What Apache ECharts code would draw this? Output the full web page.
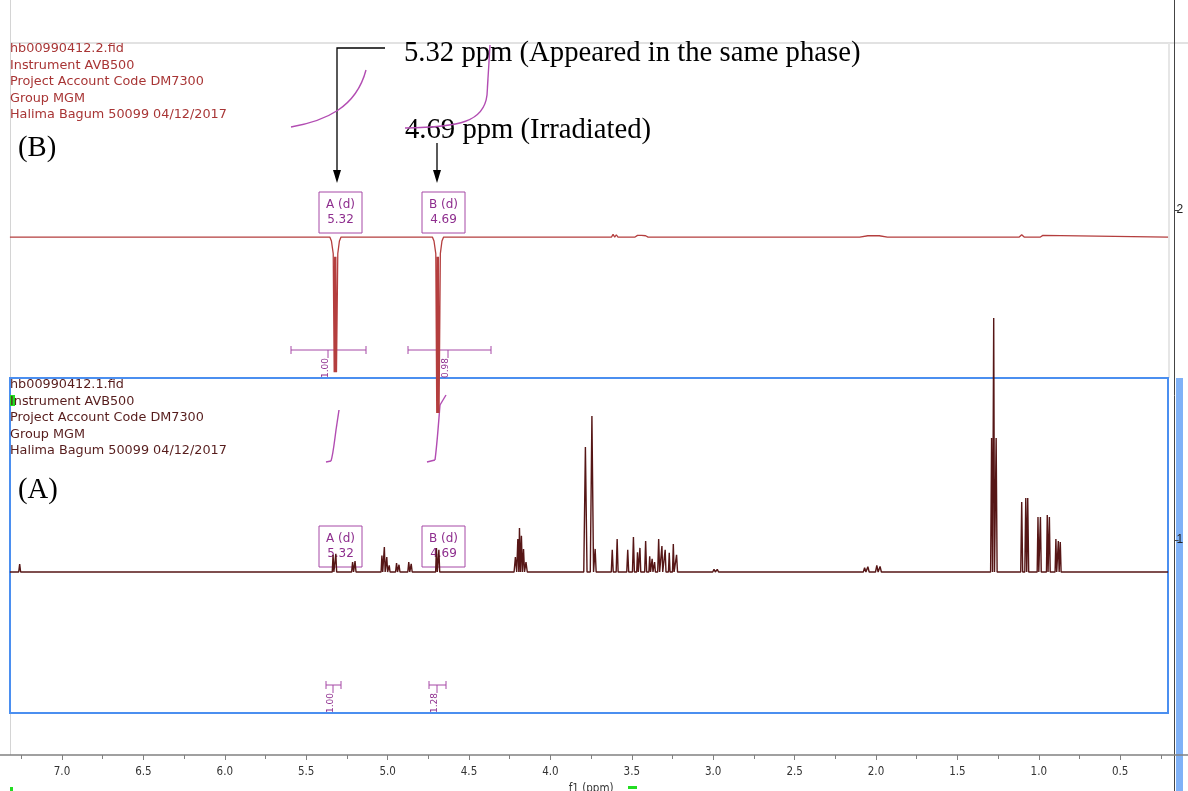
<!DOCTYPE html>
<html>
<head>
<meta charset="utf-8">
<script src="https://cdn.jsdelivr.net/npm/echarts@6.0.0/dist/echarts.min.js"></script>
<style>
  html, body { margin: 0; padding: 0; background: #fff; }
  #main { width: 1188px; height: 791px; }
</style>
</head>
<body>
<div id="main"></div>
<script>
// stacked spectra: baseline offsets on the right-hand axis
var baseA = 0.903;
var baseB = 1.918;
var ppmStart = 7.32;
var ppmEnd = 0.206;

// spectrum (A) 1H: [ppm, intensity, half width]
var peaksA = [
  [7.26, 0.024, 0.006],
  [5.335, 0.052, 0.005], [5.318, 0.055, 0.005],
  [5.215, 0.030, 0.006], [5.200, 0.033, 0.006],
  [5.035, 0.050, 0.005], [5.020, 0.076, 0.005], [5.005, 0.045, 0.005], [4.990, 0.020, 0.005],
  [4.945, 0.027, 0.006], [4.930, 0.022, 0.006],
  [4.870, 0.030, 0.006], [4.855, 0.025, 0.006],
  [4.700, 0.073, 0.005], [4.685, 0.067, 0.005],
  [4.215, 0.045, 0.008], [4.200, 0.100, 0.006], [4.190, 0.133, 0.006], [4.178, 0.110, 0.006], [4.165, 0.070, 0.006], [4.150, 0.030, 0.008],
  [3.785, 0.379, 0.010],
  [3.745, 0.473, 0.010], [3.725, 0.070, 0.006],
  [3.620, 0.067, 0.006], [3.590, 0.100, 0.006],
  [3.525, 0.067, 0.006], [3.490, 0.106, 0.006], [3.465, 0.060, 0.005], [3.450, 0.073, 0.005],
  [3.415, 0.094, 0.006], [3.390, 0.048, 0.005], [3.375, 0.040, 0.005], [3.360, 0.030, 0.005],
  [3.335, 0.100, 0.006], [3.315, 0.079, 0.005], [3.295, 0.067, 0.005], [3.270, 0.058, 0.005],
  [3.245, 0.085, 0.005], [3.225, 0.052, 0.006],
  [2.995, 0.008, 0.008], [2.975, 0.008, 0.008],
  [2.760, 0.006, 0.010],
  [2.070, 0.013, 0.008], [2.050, 0.016, 0.008], [1.995, 0.020, 0.008], [1.975, 0.017, 0.008],
  [1.290, 0.406, 0.006], [1.277, 0.770, 0.005], [1.262, 0.406, 0.006],
  [1.105, 0.212, 0.006], [1.080, 0.224, 0.006], [1.068, 0.224, 0.006],
  [1.005, 0.167, 0.005], [0.990, 0.167, 0.005], [0.948, 0.173, 0.005], [0.935, 0.167, 0.005],
  [0.895, 0.100, 0.005], [0.880, 0.094, 0.005], [0.868, 0.091, 0.005]
];

// spectrum (B) selective NOE, 4.69 irradiated: [ppm, intensity]
var traceB = [
  [7.32, 0], [5.355, 0], [5.345, -0.012], [5.334, -0.05],
  [5.328, -0.41], [5.325, -0.06], [5.321, -0.41], [5.318, -0.06], [5.314, -0.41],
  [5.306, -0.05], [5.296, -0.012], [5.286, 0],
  [4.725, 0], [4.715, -0.012], [4.704, -0.05],
  [4.698, -0.533], [4.695, -0.06], [4.691, -0.533], [4.688, -0.06], [4.684, -0.533],
  [4.676, -0.05], [4.666, -0.012], [4.656, 0],
  [3.625, 0], [3.615, 0.008], [3.605, 0], [3.595, 0.007], [3.585, 0],
  [3.50, 0], [3.49, 0.005], [3.48, 0], [3.465, 0.005], [3.455, 0], [3.44, 0.005], [3.43, 0], [3.415, 0.004], [3.40, 0],
  [2.10, 0], [2.05, 0.004], [1.98, 0.004], [1.93, 0],
  [1.12, 0], [1.105, 0.007], [1.09, 0], [1.08, 0.006], [1.065, 0],
  [1.01, 0], [1.0, 0.005], [0.99, 0], [0.975, 0.005], [0.965, 0],
  [0.206, 0]
];

var xLabelFmt = function (v) { return v.toFixed(1); };

function lineFromPeaks(peaks, base) {
  var pts = [[ppmStart, base]];
  peaks.forEach(function (p) {
    pts.push([p[0] + p[2], base], [p[0], base + p[1]], [p[0] - p[2], base]);
  });
  pts.push([ppmEnd, base]);
  return pts;
}

var dataA = lineFromPeaks(peaksA, baseA);
var dataB = traceB.map(function (p) { return [p[0], baseB + p[1]]; });

var purple = '#a648a6';
var purpleText = '#8e2e8e';
var headFont = '12.8px "DejaVu Sans"';
var boxFont = '12px "DejaVu Sans"';
var serif = '28.7px "Liberation Serif", "Times New Roman", serif';

function headerLines(lines, x, y0, step, color) {
  return lines.map(function (t, i) {
    return { type: 'text', x: x, y: y0 + i * step,
      style: { text: t, font: headFont, fill: color, verticalAlign: 'middle' } };
  });
}
function box(label, value, x, y) {
  return [
    { type: 'rect', shape: { x: x, y: y, width: 43, height: 41 },
      style: { fill: '#fff', stroke: purple, lineWidth: 1 } },
    { type: 'text', x: x + 21.5, y: y + 13,
      style: { text: label, font: boxFont, fill: purpleText, align: 'center', verticalAlign: 'middle' } },
    { type: 'text', x: x + 21.5, y: y + 28,
      style: { text: value, font: boxFont, fill: purpleText, align: 'center', verticalAlign: 'middle' } }
  ];
}
function integral(x1, x2, xm, y, label, ly) {
  var ls = { stroke: purple, lineWidth: 1 };
  return [
    { type: 'line', shape: { x1: x1, y1: y, x2: x2, y2: y }, style: ls },
    { type: 'line', shape: { x1: x1, y1: y - 4, x2: x1, y2: y + 4 }, style: ls },
    { type: 'line', shape: { x1: x2, y1: y - 4, x2: x2, y2: y + 4 }, style: ls },
    { type: 'line', shape: { x1: xm, y1: y, x2: xm, y2: y + 8 }, style: ls },
    { type: 'text', x: xm - 2, y: ly, rotation: Math.PI / 2,
      style: { text: label, font: '9px "DejaVu Sans"', fill: purpleText, align: 'center', verticalAlign: 'middle' } }
  ];
}
var curveStyle = { fill: null, stroke: '#b24cb2', lineWidth: 1.4 };
function bez(a, c1, c2, b) {
  return { type: 'bezierCurve',
    shape: { x1: a[0], y1: a[1], cpx1: c1[0], cpy1: c1[1], cpx2: c2[0], cpy2: c2[1], x2: b[0], y2: b[1] },
    style: curveStyle };
}
function seg(a, b) {
  return { type: 'line', shape: { x1: a[0], y1: a[1], x2: b[0], y2: b[1] }, style: curveStyle };
}

var headText = ['Instrument AVB500', 'Project Account Code DM7300', 'Group MGM', 'Halima Bagum 50099 04/12/2017'];

var graphics = [].concat(
  [
    { type: 'line', shape: { x1: 10, y1: 43, x2: 1188, y2: 43 }, style: { stroke: '#e2e2e2', lineWidth: 2 } },
    { type: 'line', shape: { x1: 10.5, y1: 0, x2: 10.5, y2: 755 }, style: { stroke: '#d4d4d4', lineWidth: 1 } },
    { type: 'line', shape: { x1: 1169, y1: 43, x2: 1169, y2: 378 }, style: { stroke: '#e6e6e6', lineWidth: 2 } },
    { type: 'rect', shape: { x: 10, y: 378, width: 1158, height: 335 },
      style: { fill: null, stroke: '#4b8ff0', lineWidth: 2 } },
    { type: 'rect', shape: { x: 1176, y: 378, width: 7, height: 413 }, style: { fill: '#7fb1f7' } },
    { type: 'rect', shape: { x: 10, y: 395, width: 5, height: 11 }, style: { fill: '#22dd22' } },
    { type: 'rect', shape: { x: 10, y: 787, width: 3, height: 4 }, style: { fill: '#22dd22' } },
    { type: 'rect', shape: { x: 628, y: 786, width: 9, height: 3 }, style: { fill: '#22dd22' } }
  ],
  headerLines(['hb00990412.2.fid'].concat(headText), 10, 49, 16.5, '#a83535'),
  headerLines(['hb00990412.1.fid'].concat(headText), 10, 385, 16.5, '#561c1c'),
  [
    { type: 'text', x: 18, y: 148, style: { text: '(B)', font: serif, fill: '#000', verticalAlign: 'middle' } },
    { type: 'text', x: 18, y: 490, style: { text: '(A)', font: serif, fill: '#000', verticalAlign: 'middle' } },
    { type: 'text', x: 404, y: 53, style: { text: '5.32 ppm (Appeared in the same phase)', font: serif, fill: '#000', verticalAlign: 'middle' } },
    { type: 'text', x: 405, y: 130, style: { text: '4.69 ppm (Irradiated)', font: serif, fill: '#000', verticalAlign: 'middle' } },
    { type: 'polyline', shape: { points: [[385, 48], [337, 48], [337, 174]] }, style: { fill: null, stroke: '#000', lineWidth: 1.3 } },
    { type: 'polygon', shape: { points: [[333, 170], [341, 170], [337, 183]] }, style: { fill: '#000' } },
    { type: 'line', shape: { x1: 437, y1: 143, x2: 437, y2: 174 }, style: { stroke: '#000', lineWidth: 1.3 } },
    { type: 'polygon', shape: { points: [[433, 170], [441, 170], [437, 183]] }, style: { fill: '#000' } },
    // integral curves
    bez([291, 127], [325, 121], [356, 108], [366, 70]),
    bez([405, 128], [460, 127], [484, 122], [487, 95]),
    seg([487, 95], [490, 45]),
    seg([326, 462], [331, 461]),
    bez([331, 461], [333, 455], [334, 445], [336, 430]),
    seg([336, 430], [339, 410]),
    seg([427, 462], [435, 460]),
    bez([435, 460], [437, 445], [438, 430], [440, 405]),
    seg([440, 405], [446, 395])
  ],
  box('A (d)', '5.32', 319, 192),
  box('B (d)', '4.69', 422, 192),
  box('A (d)', '5.32', 319, 526),
  box('B (d)', '4.69', 422, 526),
  integral(291, 366, 328, 350, '1.00', 368),
  integral(408, 491, 448, 350, '0.98', 368),
  integral(326, 341, 333, 685, '1.00', 703),
  integral(429, 446, 437, 685, '1.28', 703)
);

var chart = echarts.init(document.getElementById('main'));
var option = {
  animation: false,
  backgroundColor: '#fff',
  grid: { left: -19.4, right: -13.6, top: -120, bottom: -79, containLabel: false, outerBoundsMode: 'none' },
  xAxis: {
    type: 'value', min: 0, max: 7.5, interval: 0.5, inverse: true, offset: -115,
    name: 'f1 (ppm)', nameLocation: 'middle', nameGap: 24,
    nameTextStyle: { color: '#333', fontSize: 11.5, fontFamily: 'DejaVu Sans Condensed' },
    axisLine: { onZero: false, lineStyle: { color: '#808080', width: 1.5 } },
    axisTick: { length: 5, lineStyle: { color: '#808080' } },
    minorTick: { show: true, splitNumber: 2, length: 4, lineStyle: { color: '#808080' } },
    axisLabel: { color: '#333', fontSize: 11.5, fontFamily: 'DejaVu Sans Condensed', margin: 11, formatter: xLabelFmt },
    splitLine: { show: false }
  },
  yAxis: {
    type: 'value', position: 'right', min: 0, max: 3, interval: 1, offset: -27,
    axisLine: { show: true, lineStyle: { color: '#444' } },
    axisTick: { show: true, length: 4, lineStyle: { color: '#444' } },
    axisLabel: { color: '#222', fontSize: 12, margin: 2,
      formatter: function (v) { return (v === 1 || v === 2) ? String(v) : ''; } },
    splitLine: { show: false }
  },
  graphic: graphics,
  series: [
    { name: 'B', type: 'line', data: dataB, showSymbol: false, smooth: false,
      lineStyle: { color: '#b43e3e', width: 1.3 }, z: 3 },
    { name: 'A', type: 'line', data: dataA, showSymbol: false, smooth: false,
      lineStyle: { color: '#561616', width: 1.4 }, z: 3 }
  ]
};
chart.setOption(option);
</script>
</body>
</html>
